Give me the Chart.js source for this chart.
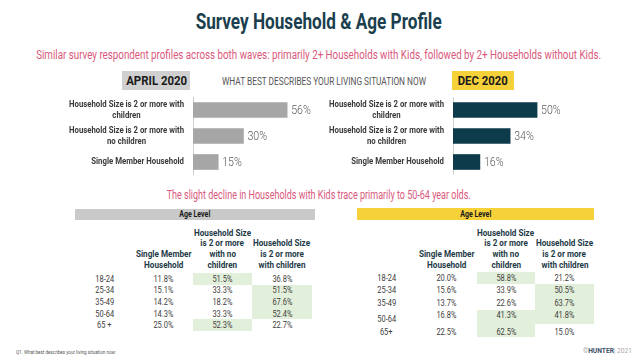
<!DOCTYPE html>
<html><head><meta charset="utf-8">
<script src="https://cdn.jsdelivr.net/npm/chart.js@4.4.1/dist/chart.umd.min.js"></script>
<style>
html,body{margin:0;padding:0;background:#fff;}
body{width:638px;height:359px;position:relative;overflow:hidden;font-family:Roboto,"Open Sans",sans-serif;}
.a{position:absolute;white-space:nowrap;}
.s{display:inline-block;transform-origin:center center;}
.full{left:-500px;width:1638px;text-align:center;}
#title{top:9px;line-height:26px;font-size:22px;font-weight:bold;color:#1b3f4e;}
#sub1{top:47px;line-height:16px;font-size:12px;color:#d9587c;}
#sub2{top:187px;line-height:16px;font-size:12px;color:#d9587c;}
.box{height:19px;line-height:19px;text-align:center;font-weight:bold;font-size:13px;color:#1a1a1a;}
#q{left:222px;top:75px;line-height:14px;font-size:10px;color:#555;}
#q .s,#foot .s,#copy .s{transform-origin:left center;}
.hbar{text-align:center;font-weight:bold;font-size:8.5px;color:#1a1a1a;}
.hcell{display:flex;flex-direction:column;justify-content:flex-end;align-items:center;font-weight:bold;font-size:9px;line-height:10.7px;color:#1e3a47;text-align:center;}
.cell{display:flex;align-items:center;justify-content:center;font-size:8.5px;color:#404040;box-sizing:border-box;}
#foot{left:16px;top:348px;line-height:8px;font-size:6px;color:#555;}
#copy{left:583px;top:347px;line-height:8px;font-size:7px;color:#aaa;}
#copy b{color:#3c4f66;}
</style></head>
<body>
<div class="a full" id="title"><span class="s" data-w="246">Survey Household &amp; Age Profile</span></div>
<div class="a full" id="sub1"><span class="s" data-w="565">Similar survey respondent profiles across both waves: primarily 2+ Households with Kids, followed by 2+ Households without Kids.</span></div>
<div class="a box" style="left:122px;top:71px;width:68px;background:#d0d0d0;"><span class="s" data-w="61">APRIL 2020</span></div>
<div class="a" id="q"><span class="s" data-w="204">WHAT BEST DESCRIBES YOUR LIVING SITUATION NOW</span></div>
<div class="a box" style="left:452px;top:71px;width:62px;background:#f6d13a;"><span class="s" data-w="50">DEC 2020</span></div>
<canvas id="c1" class="a" width="265" height="78" style="left:60px;top:97px;"></canvas>
<canvas id="c2" class="a" width="265" height="78" style="left:320px;top:97px;"></canvas>
<div class="a full" id="sub2"><span class="s" data-w="304">The slight decline in Households with Kids trace primarily to 50-64 year olds.</span></div>
<div id="t1"></div>
<div id="t2"></div>
<div class="a" id="foot"><span class="s" data-w="100">Q1. What best describes your living situation now:</span></div>
<div class="a" id="copy"><span class="s" data-w="49">©<b>HUNTER</b>| 2021</span></div>
<script>
// ---- data ----
const categories = [["Household Size is 2 or more with","children"],["Household Size is 2 or more with","no children"],"Single Member Household"];
const aprilValues = [56, 30, 15];
const decValues = [50, 34, 16];

const tableHeaders = [["Single Member","Household"],["Household Size","is 2 or more","with no","children"],["Household Size","is 2 or more","with children"]];
const ageGroupsApril = ["18-24","25-34","35-49","50-64","65 +"];
const ageGroupsDec = ["18-24","25-34","35-49","50-64","65+"];
const aprilSingle = [11.8, 15.1, 14.2, 14.3, 25.0];
const aprilNoKids = [51.5, 33.3, 18.2, 33.3, 52.3];
const aprilKids   = [36.8, 51.5, 67.6, 52.4, 22.7];
const decSingle = [20.0, 15.6, 13.7, 16.8, 22.5];
const decNoKids = [58.8, 33.9, 22.6, 41.3, 62.5];
const decKids   = [21.2, 50.5, 63.7, 41.8, 15.0];
const highlightAbove = 40;

// ---- helpers ----
const FONT = 'Roboto,"Open Sans",sans-serif';
const mctx = document.createElement('canvas').getContext('2d');
function measure(text, font){ mctx.font = font; return mctx.measureText(text).width; }

// ---- charts ----
const chartDecor = {
  id:'chartDecor',
  afterDatasetsDraw(chart){
    const ctx = chart.ctx, ys = chart.scales.y;
    ctx.save();
    // value labels
    ctx.font = '300 12.5px ' + FONT;
    ctx.fillStyle = '#595959';
    ctx.textBaseline = 'middle';
    ctx.textAlign = 'left';
    chart.getDatasetMeta(0).data.forEach((el,i)=>{
      const t = chart.data.datasets[0].data[i] + '%';
      ctx.fillText(t, el.x + 4, el.y + 0.5, ctx.measureText(t).width * 0.85);
    });
    // category labels
    ctx.font = 'bold 9px ' + FONT;
    const sc = 115 / ctx.measureText('Household Size is 2 or more with').width;
    ctx.fillStyle = '#3a3a3a';
    ctx.textAlign = 'center';
    const right = ys.right - 9;
    chart.data.labels.forEach((lab,i)=>{
      const lines = Array.isArray(lab) ? lab : [lab];
      const ws = lines.map(l => ctx.measureText(l).width * sc);
      const bw = Math.max(...ws);
      const cx = right - bw/2;
      const yc = ys.getPixelForValue(i);
      lines.forEach((l,k)=>{
        ctx.fillText(l, cx, yc + (k - (lines.length-1)/2) * 11, ws[k]);
      });
    });
    ctx.restore();
  }
};
function makeBar(id, values, color){
  new Chart(document.getElementById(id), {
    type:'bar',
    data:{labels:categories, datasets:[{data:values, backgroundColor:color, barThickness:15, borderWidth:0}]},
    options:{
      indexAxis:'y', responsive:false, animation:false,
      layout:{padding:0},
      plugins:{legend:{display:false}, tooltip:{enabled:false}},
      scales:{
        x:{display:false, min:0, max:78.5},
        y:{
          grid:{display:true, color:'transparent', drawTicks:false},
          border:{display:true, color:'#d0d0d0', width:1},
          ticks:{display:false},
          afterFit(s){ s.width = 133; }
        }
      }
    },
    plugins:[chartDecor]
  });
}
makeBar('c1', aprilValues, '#a6a6a6');
makeBar('c2', decValues, '#0d3b4b');

// ---- tables ----
const valScale = 20 / measure('11.8%', '8.5px ' + FONT);
const headScale = 57 / measure('Household Size', 'bold 9px ' + FONT);
const barScale = 31 / measure('Age Level', 'bold 8.5px ' + FONT);
function makeTable(hostId, opt){
  const host = document.getElementById(hostId);
  const cx = opt.colX, ry = opt.rowY;
  const sp = (t, s) => `<span class="s" style="transform:scaleX(${s})">${t}</span>`;
  let html = `<div class="a hbar" style="left:${opt.barL}px;width:${opt.barW}px;top:${opt.barT}px;height:${opt.barH}px;line-height:${opt.barH}px;background:${opt.barColor};">${sp('Age Level', barScale)}</div>`;
  tableHeaders.forEach((h,j)=>{
    html += `<div class="a hcell" style="left:${cx[j+1]}px;width:${cx[j+2]-cx[j+1]}px;top:${opt.headT}px;height:${opt.headH}px;">${h.map(s=>`<div>${sp(s, headScale)}</div>`).join('')}</div>`;
  });
  opt.ages.forEach((age,i)=>{
    const top = ry[i], h = ry[i+1]-ry[i];
    const ls = opt.labelShift ? opt.labelShift[i] : 0;
    const vs = opt.valueShift ? opt.valueShift[i] : 0;
    html += `<div class="a cell" style="left:${cx[0]}px;width:${cx[1]-cx[0]}px;top:${top+ls}px;height:${h}px;">${sp(age, valScale)}</div>`;
    opt.cols.forEach((col,j)=>{
      const v = col[i];
      const bg = v > highlightAbove ? 'background:#e2efda;' : '';
      html += `<div class="a" style="left:${cx[j+1]}px;width:${cx[j+2]-cx[j+1]}px;top:${top}px;height:${h}px;${bg}"></div>`;
      html += `<div class="a cell" style="left:${cx[j+1]}px;width:${cx[j+2]-cx[j+1]}px;top:${top+vs}px;height:${h}px;">${sp(v.toFixed(1)+'%', valScale)}</div>`;
    });
  });
  host.innerHTML = html;
}
makeTable('t1', {
  barL:75, barW:240, barT:209, barH:11, barColor:'#c9c9c9',
  colX:[75,134,193,252,312], headT:226, headH:44.5,
  rowY:[273,284.6,296.2,307.8,319.4,331],
  ages:ageGroupsApril, cols:[aprilSingle, aprilNoKids, aprilKids]
});
makeTable('t2', {
  barL:357, barW:237, barT:208, barH:12, barColor:'#f6d13a',
  colX:[357,416,477,535,594], headT:226, headH:44.5,
  rowY:[272,284,296,310,324,337],
  ages:ageGroupsDec, cols:[decSingle, decNoKids, decKids],
  labelShift:[0,0,0,2,1], valueShift:[0,0,0,-2,1]
});

// ---- fit free texts to reference widths ----
document.querySelectorAll('.s[data-w]').forEach(el=>{
  const w = el.getBoundingClientRect().width;
  el.style.transform = `scaleX(${(+el.dataset.w)/w})`;
});
</script>
</body></html>
